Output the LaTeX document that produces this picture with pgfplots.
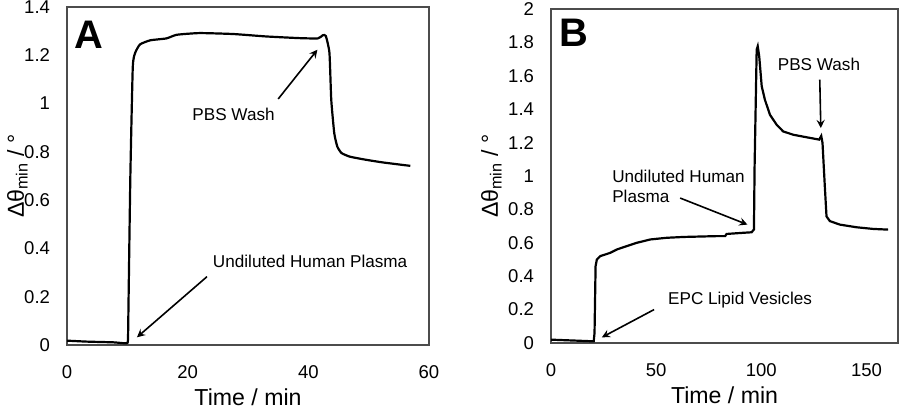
\documentclass[border=0pt]{standalone}
\usepackage{pgfplots}
\pgfplotsset{compat=1.18}
\usepackage{fontspec}
\setmainfont{Liberation Sans}
\tikzset{annot/.style={font=\fontsize{8.6}{10}\selectfont}}
\begin{document}
\begin{tikzpicture}
\path[use as bounding box] (0bp,0bp) rectangle (450bp,206bp);
\pgfplotsset{
  myax/.style={
    scale only axis,
    axis line style={black!70, line width=0.7bp},
    major tick length=0pt,
    /pgf/number format/assume math mode=true,
    tick label style={font=\fontsize{9.3}{11}\selectfont},
    yticklabel style={xshift=-5bp},
    xticklabel style={yshift=-7bp},
    label style={font=\fontsize{11.6}{13}\selectfont},
    xlabel={Time / min},
    ylabel={Δθ\textsubscript{min} / °},
    xlabel style={yshift=2bp},
  },
}
\begin{axis}[myax, at={(33.5bp,33.5bp)}, anchor=south west, width=181bp, height=169bp,
  xmin=0, xmax=60, ymin=0, ymax=1.4, ylabel style={yshift=-8.5bp},
  xtick={0,20,40,60}, ytick={0,0.2,0.4,0.6,0.8,1,1.2,1.4}]
\addplot[black, line width=1.1bp, smooth, tension=0.3] coordinates {
(0,0.018) (3.3,0.014) (7.7,0.011) (9.8,0.007) (10.1,0.02) (10.2,0.18) (10.5,0.7)
(10.9,1.15) (11.3,1.21) (12.1,1.245) (13.8,1.262) (16.5,1.27) (18.2,1.285)
(22,1.292) (27.6,1.288) (33,1.278) (38.6,1.271) (41.6,1.27) (42.4,1.283) (42.9,1.28)
(43.5,1.21) (43.8,1.015) (44.3,0.877) (44.8,0.822) (45.5,0.795) (46.9,0.78)
(49.6,0.767) (52.4,0.756) (56.9,0.742)};
\node[font=\bfseries\fontsize{20}{20}\selectfont] at (axis cs:3.6,1.285) {A};
\node[annot] at (axis cs:27.6,0.956) {PBS Wash};
\draw[-stealth, line width=0.8bp] (axis cs:35.0,1.019) -- (axis cs:41.5,1.223);
\node[annot] at (axis cs:40.3,0.346) {Undiluted Human Plasma};
\draw[-stealth, line width=0.8bp] (axis cs:23.2,0.283) -- (axis cs:11.6,0.032);
\end{axis}
\begin{axis}[myax, at={(275.5bp,34.5bp)}, anchor=south west, width=173.5bp, height=167bp,
  xmin=0, xmax=165, ymin=0, ymax=2, ylabel style={yshift=-3.5bp},
  xtick={0,50,100,150}, ytick={0,0.2,0.4,0.6,0.8,1,1.2,1.4,1.6,1.8,2}]
\addplot[black, line width=1.1bp] coordinates {
(0,0.02) (12.3,0.014) (20.3,0.01) (20.7,0.06) (21.2,0.46) (21.8,0.50) (23.4,0.52)
(28.2,0.54) (31.3,0.56) (36,0.58) (40.8,0.60) (47.2,0.62) (55,0.63) (63,0.635)
(78.8,0.64) (82.8,0.64) (83.5,0.653) (91.5,0.66) (95.4,0.663) (96.5,0.68)
(96.8,1.05) (97.8,1.757) (98.3,1.777) (99,1.717) (100.2,1.537) (101.7,1.457)
(104.1,1.367) (107.3,1.307) (110.4,1.267) (115.2,1.247) (121.5,1.232) (127.5,1.218)
(128.5,1.24) (129.1,1.198) (130.2,0.938) (131,0.758) (132.6,0.73) (137.3,0.709)
(145.3,0.693) (153.2,0.683) (160.3,0.679)};
\node[font=\bfseries\fontsize{20}{20}\selectfont] at (axis cs:10.8,1.856) {B};
\node[annot] at (axis cs:127.4,1.667) {PBS Wash};
\draw[-stealth, line width=0.8bp] (axis cs:127.8,1.577) -- (axis cs:128.3,1.287);
\node[annot, anchor=west, align=left] at (axis cs:25.8,0.94) {Undiluted Human\\Plasma};
\draw[-stealth, line width=0.8bp] (axis cs:61.4,0.868) -- (axis cs:93.4,0.709);
\node[annot] at (axis cs:89.9,0.259) {EPC Lipid Vesicles};
\draw[-stealth, line width=0.8bp] (axis cs:49,0.2) -- (axis cs:24.2,0.034);
\end{axis}
\end{tikzpicture}
\end{document}
